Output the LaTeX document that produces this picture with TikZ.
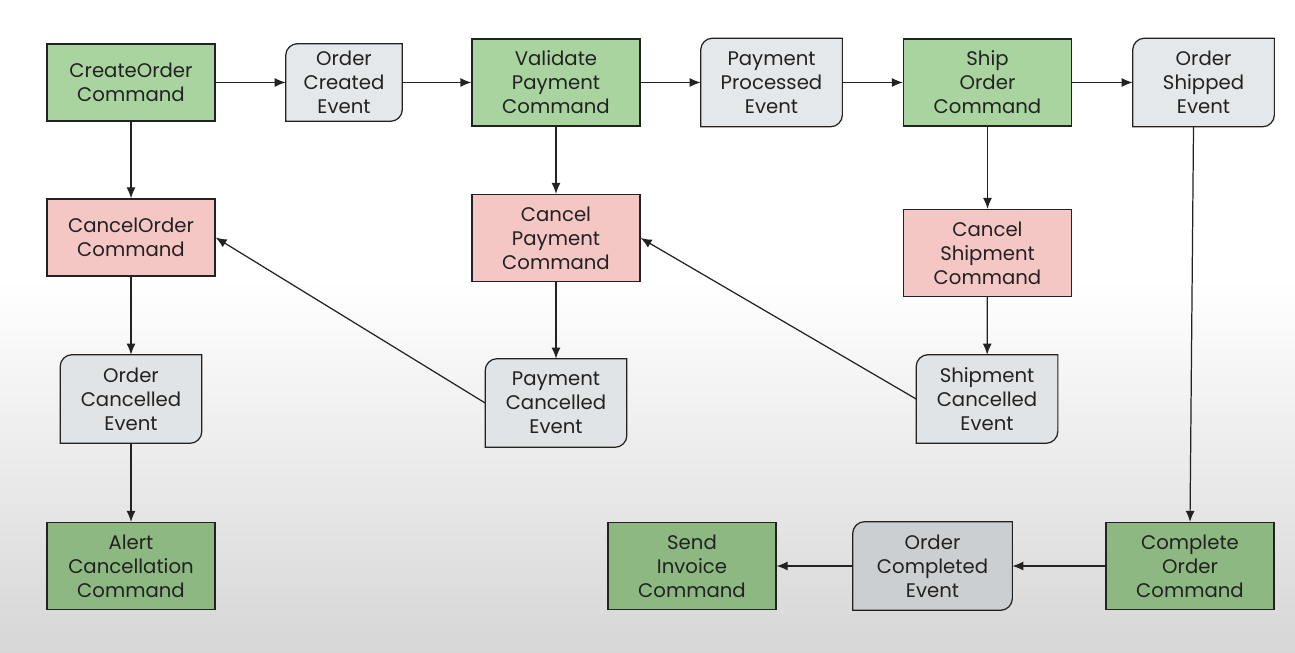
\documentclass[tikz,border=0pt]{standalone}
\usepackage{fontspec}
\setmainfont{Poppins}
\usetikzlibrary{arrows.meta,backgrounds}
\definecolor{cmdgreen}{HTML}{A9D49F}
\definecolor{cmddark}{HTML}{8DB881}
\definecolor{cxred}{HTML}{F4C6C4}
\definecolor{evgray}{HTML}{E4E8EA}
\definecolor{evmid}{HTML}{E0E4E6}
\definecolor{evdark}{HTML}{CBCFD1}
\definecolor{lnk}{HTML}{222222}

\begin{document}
\begin{tikzpicture}
			[
			cmd/.style={draw=lnk, fill=cmdgreen, line width=0.7pt, minimum width=33.6mm,
				minimum height=17.4mm, align=center, inner sep=0pt},
			cxl/.style={cmd, fill=cxred},
			fin/.style={cmd, fill=cmddark},
			evt/.style={minimum width=28.2mm, minimum height=17.6mm, align=center, inner sep=0pt},
			evline/.style={draw=lnk, line width=0.7pt},
			link/.style={->, draw=lnk, line width=0.7pt},
			>={Latex[length=2.2mm,width=1.8mm]},
			font=\fontsize{11.2}{13.6}\selectfont, text=lnk]
			\useasboundingbox (0,0) rectangle (25.9,-13.06);
			\begin{scope}[on background layer]
				\fill[white] (0,0) rectangle (25.9,-13.06);
				\shade[top color=white, bottom color=black!16] (0,-5.6) rectangle (25.9,-13.06);
			\end{scope}
			% happy path
			\node (co)  [cmd, minimum height=15.4mm] at (2.62,-1.65) {CreateOrder\\Command};
			\node (oce) [evt, minimum width=23.2mm, minimum height=15.4mm] at (6.88,-1.65) {Order\\Created\\Event};
			\node (vp)  [cmd] at (11.12,-1.65) {Validate\\Payment\\Command};
			\node (pp)  [evt] at (15.43,-1.65) {Payment\\Processed\\Event};
			\node (so)  [cmd] at (19.75,-1.65) {Ship\\Order\\Command};
			\node (os)  [evt] at (24.07,-1.65) {Order\\Shipped\\Event};
			% compensation
			\node (cxo) [cxl, minimum height=15.4mm] at (2.62,-4.75) {CancelOrder\\Command};
			\node (cp)  [cxl] at (11.12,-4.76) {Cancel\\Payment\\Command};
			\node (cs)  [cxl] at (19.75,-5.06) {Cancel\\Shipment\\Command};
			\node (ocx) [evt] at (2.62,-7.98) {Order\\Cancelled\\Event};
			\node (pcx) [evt] at (11.12,-8.06) {Payment\\Cancelled\\Event};
			\node (scx) [evt] at (19.74,-7.98) {Shipment\\Cancelled\\Event};
			% bottom row
			\node (alert) [fin] at (2.62,-11.32) {Alert\\Cancellation\\Command};
			\node (inv)   [fin] at (13.84,-11.32) {Send\\Invoice\\Command};
			\node (ocm)   [evt, minimum width=31.8mm] at (18.65,-11.32) {Order\\Completed\\Event};
			\node (cmpl)  [fin] at (23.8,-11.32) {Complete\\Order\\Command};
			% event outlines
			\begin{scope}[on background layer]
				\foreach \n/\c in {oce/evgray, pp/evgray, os/evgray, ocx/evmid, pcx/evmid, scx/evmid, ocm/evdark}
				\draw[evline, fill=\c] (\n.south west) -- ([yshift=-2.4mm]\n.north west)
				arc[start angle=180, end angle=90, radius=2.4mm] -- (\n.north east)
				-- ([yshift=2.4mm]\n.south east) arc[start angle=0, end angle=-90, radius=2.4mm] -- cycle;
			\end{scope}
			\draw[link] (co) -- (oce);
			\draw[link] (oce) -- (vp);
			\draw[link] (vp) -- (pp);
			\draw[link] (pp) -- (so);
			\draw[link] (so) -- (os);
			\draw[link] (co) -- (cxo);
			\draw[link] (vp) -- (cp);
			\draw[link] (so) -- (cs);
			\draw[link] (cxo) -- (ocx);
			\draw[link] (cp) -- (pcx);
			\draw[link] (cs) -- (scx);
			\draw[link] (ocx) -- (alert);
			\draw[link] (pcx.west) -- (cxo.east);
			\draw[link] (scx.west) -- (cp.east);
			\draw[link] ([xshift=-2mm]os.south) -- (cmpl.north);
			\draw[link] (cmpl) -- (ocm);
			\draw[link] (ocm) -- (inv);
		\end{tikzpicture}
\end{document}
